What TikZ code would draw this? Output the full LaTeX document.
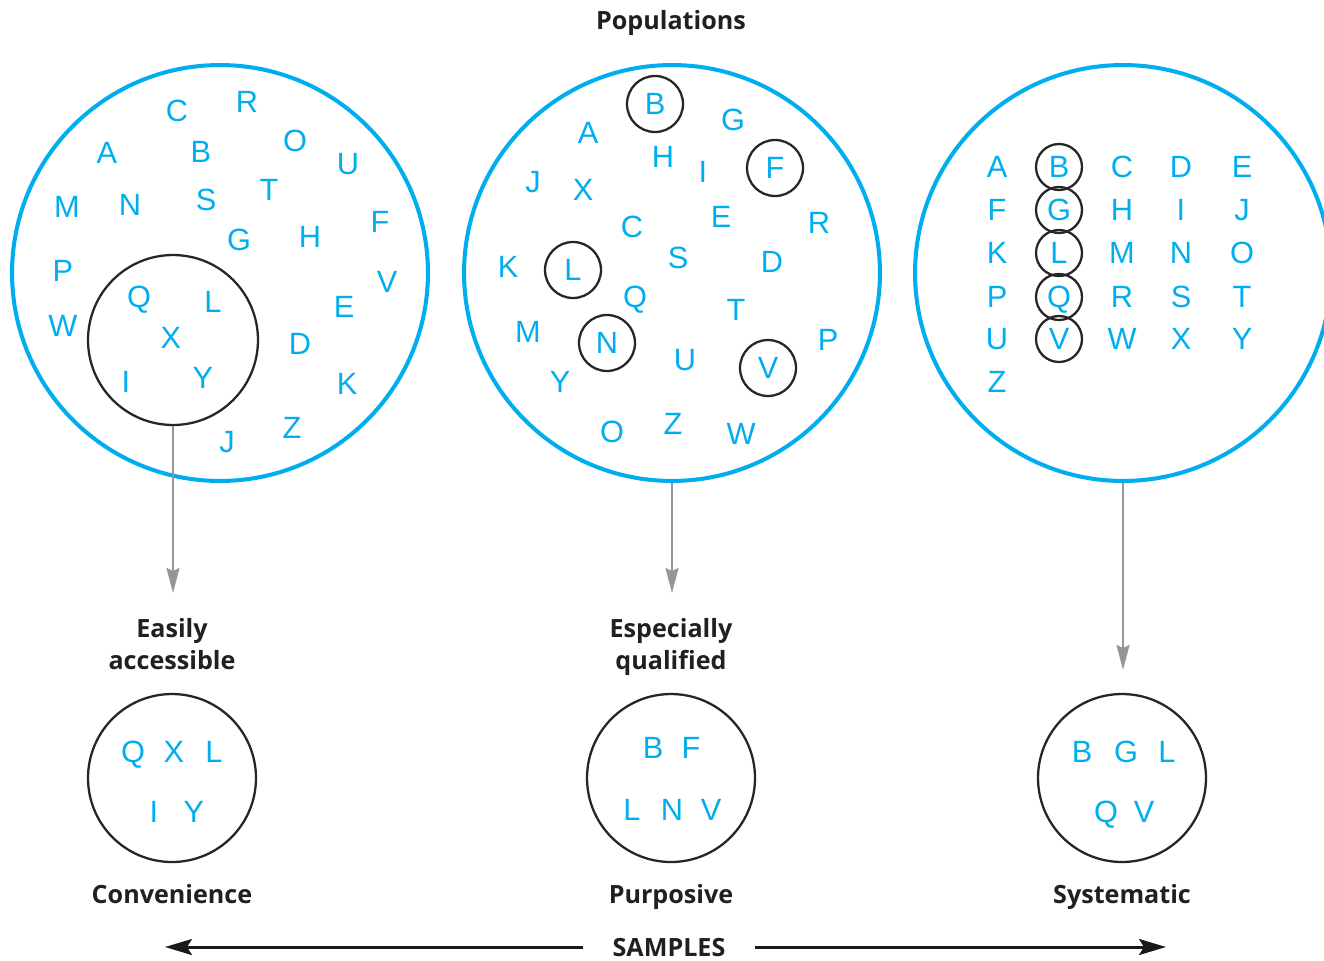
\documentclass[tikz,border=0pt]{standalone}
\usepackage{fontspec}
\setmainfont{Liberation Sans}
\newfontfamily\labelfont{Open Sans}
\usetikzlibrary{arrows.meta}
\definecolor{popblue}{RGB}{0,174,239}
\definecolor{labelgray}{RGB}{35,31,32}
\definecolor{arrowgray}{RGB}{150,150,150}
\begin{document}
\begin{tikzpicture}[x=0.02cm,y=-0.02cm,
  letter/.style={text=popblue, font=\fontsize{17.5}{20}\selectfont, inner sep=0pt, text height=12.5pt, text depth=0pt},
  popcircle/.style={circle, draw=popblue, line width=2.3pt, minimum size=8.32cm, inner sep=0pt},
  selcircle/.style={circle, draw=black!85, line width=1.3pt, inner sep=0pt},
  lab/.style={text=labelgray, font=\labelfont\bfseries\fontsize{14.3}{18.7}\selectfont, align=center, inner sep=0pt, text depth=0pt},
  down/.style={draw=arrowgray, line width=1.2pt, -{Stealth[length=0.5cm,width=0.26cm,inset=0.06cm]}},
  samparrow/.style={draw=black!90, line width=1.7pt, -{Stealth[length=0.54cm,width=0.32cm,inset=0.1cm]}}
]
\useasboundingbox (0,0) rectangle (1324,960);

% population circles
\node[popcircle] (pop1) at (220,273) {};
\node[popcircle] (pop2) at (672,273) {};
\node[popcircle] (pop3) at (1123,273) {};

% left population letters
\foreach \l/\x/\y in {C/177/111, R/247/102, A/107/153, B/201/152, O/295/141, U/348/164,
  M/67/207, N/130/205, S/206/200, T/269/190, G/239/240, H/310/237, F/380/222,
  P/63/271, V/387/282, Q/139/297, L/213/302, E/344/307, W/63/326, X/171/338,
  D/300/344, I/126/382, Y/203/378, K/347/384, Z/292/428, J/227/442}
  \node[letter] (p1-\l) at (\x,\y) {\l};
\node[selcircle, minimum size=3.4cm] (inner1) at (173,340) {};

% middle population letters
\foreach \l/\x/\y in {B/655/104, G/733/120, A/588/133, H/663/157, I/703/172, F/775/168,
  J/533/182, X/583/190, C/632/227, E/721/217, R/819/223, K/508/267, L/573/270,
  S/678/258, D/772/262, Q/635/297, T/736/310, M/528/332, N/607/343, P/828/340,
  U/685/360, V/768/368, Y/560/382, O/612/432, Z/673/424, W/741/434}
  \node[letter] (p2-\l) at (\x,\y) {\l};
\foreach \l in {B,F,L,N,V}
  \node[selcircle, minimum size=1.12cm] (c2-\l) at (p2-\l) {};

% right population grid
\foreach \l/\x/\y in {A/997/167, B/1059/167, C/1122/167, D/1181/167, E/1242/167,
  F/997/210, G/1059/210, H/1122/210, I/1181/210, J/1242/210,
  K/997/253, L/1059/253, M/1122/253, N/1181/253, O/1242/253,
  P/997/297, Q/1059/297, R/1122/297, S/1181/297, T/1242/297,
  U/997/339, V/1059/339, W/1122/339, X/1181/339, Y/1242/339,
  Z/997/382}
  \node[letter] (p3-\l) at (\x,\y) {\l};
\foreach \l in {B,G,L,Q,V}
  \node[selcircle, minimum size=0.92cm] (c3-\l) at (p3-\l) {};

% title
\node[lab] (title) at (671,20) {Populations};

% arrow targets
\coordinate (a1) at (173,593);
\coordinate (a2) at (672,593);
\coordinate (a3) at (1123,670);
\draw[down] (inner1.south) -- (a1);
\draw[down] (pop2.south) -- (a2);
\draw[down] (pop3.south) -- (a3);

% criteria labels
\node[lab] (crit1) at (172,644) {Easily\\accessible};
\node[lab] (crit2) at (671,644) {Especially\\qualified};

% sample circles
\node[selcircle, minimum size=3.36cm] (samp1) at (172,778) {};
\node[selcircle, minimum size=3.36cm] (samp2) at (671,778) {};
\node[selcircle, minimum size=3.36cm] (samp3) at (1122,778) {};

\foreach \l/\x/\y in {Q/133/752, X/174/752, L/214/752, I/154/812, Y/194/812}
  \node[letter] (s1-\l) at (\x,\y) {\l};
\foreach \l/\x/\y in {B/653/748, F/691/748, L/632/810, N/672/810, V/711/810}
  \node[letter] (s2-\l) at (\x,\y) {\l};
\foreach \l/\x/\y in {B/1082/752, G/1126/752, L/1167/752, Q/1106/812, V/1144/812}
  \node[letter] (s3-\l) at (\x,\y) {\l};

% sample type labels
\node[lab] (type1) at (172,894) {Convenience};
\node[lab] (type2) at (671,894) {Purposive};
\node[lab] (type3) at (1122,894) {Systematic};

% samples axis
\node[lab, inner xsep=0.58cm] (samples) at (669,947) {SAMPLES};
\coordinate (sl) at (165,947);
\coordinate (sr) at (1166,947);
\draw[samparrow] (samples) -- (sl);
\draw[samparrow] (samples) -- (sr);
\end{tikzpicture}
\end{document}
